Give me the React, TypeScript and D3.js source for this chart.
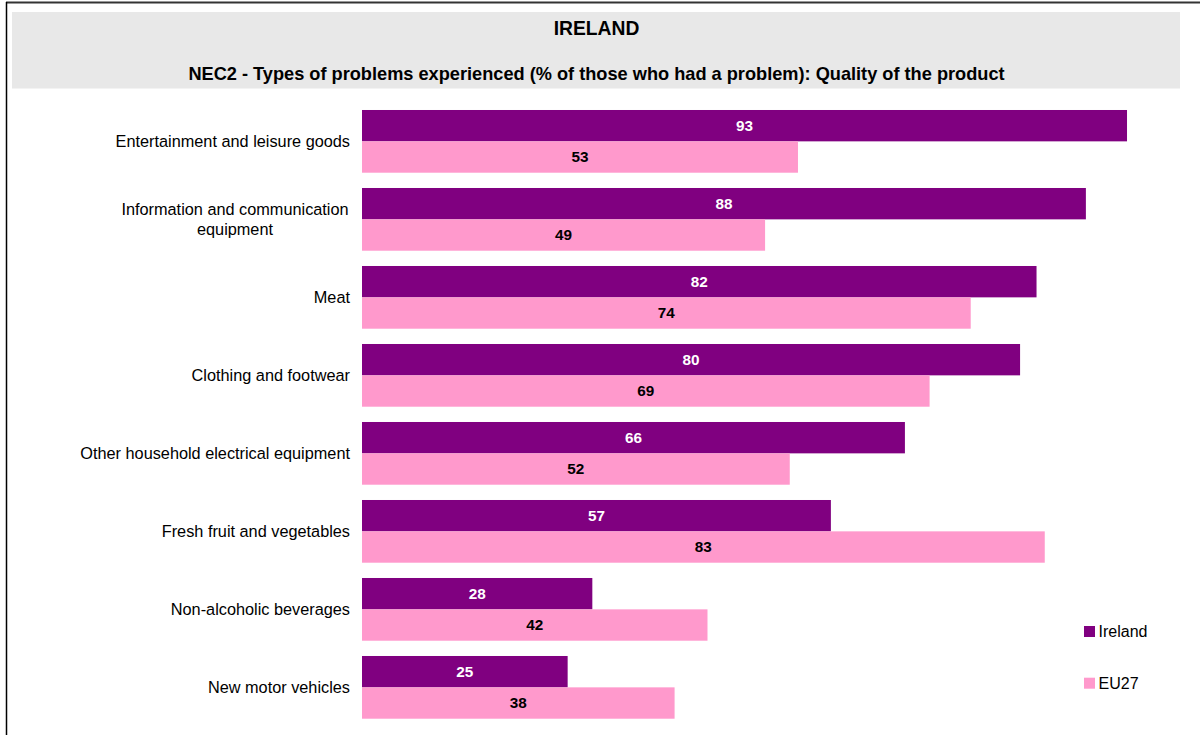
import React from "react";
import * as d3 from "d3";

const categories: string[][] = [
  ["Entertainment and leisure goods"],
  ["Information and communication", "equipment"],
  ["Meat"],
  ["Clothing and footwear"],
  ["Other household electrical equipment"],
  ["Fresh fruit and vegetables"],
  ["Non-alcoholic beverages"],
  ["New motor vehicles"],
];
const ireland = [93, 88, 82, 80, 66, 57, 28, 25];
const eu27 = [53, 49, 74, 69, 52, 83, 42, 38];
const seriesNames = ["Ireland", "EU27"];
const colors = ["#800080", "#FF99CC"];
const labelColors = ["#FFFFFF", "#000000"];

const FONT = "'Liberation Sans', Arial, sans-serif";

export default function App() {
  const W = 1200, H = 735;
  const x = d3.scaleLinear().domain([0, 100]).range([362, 362 + 822.6]);
  const y = d3
    .scaleBand<number>()
    .domain(d3.range(categories.length))
    .range([102.35, 726.35])
    .paddingInner(0.196)
    .paddingOuter(0.098);
  const sub = d3.scaleBand<number>().domain([0, 1]).range([0, y.bandwidth()]);
  const series = [ireland, eu27];

  return (
    <svg
      width={W}
      height={H}
      style={{ position: "absolute", left: 0, top: 0, fontFamily: FONT }}
    >
      <rect x={0} y={0} width={W} height={H} fill="#fff" />
      <line x1={6} y1={2.5} x2={W} y2={2.5} stroke="#333" strokeWidth={2} />
      <line x1={6.5} y1={2} x2={6.5} y2={H} stroke="#000" strokeWidth={1.5} />
      <rect x={12} y={12} width={1168} height={76.5} fill="#E8E8E8" />
      <text x={596.5} y={35} textAnchor="middle" fontWeight="bold" fontSize={19.3} fill="#000">
        IRELAND
      </text>
      <text x={596.5} y={79.5} textAnchor="middle" fontWeight="bold" fontSize={18.2} fill="#000">
        NEC2 - Types of problems experienced (% of those who had a problem): Quality of the product
      </text>

      {categories.map((lines, i) => {
        const cy = (y(i) as number) + y.bandwidth() / 2;
        const lh = 20;
        const start = cy + 5.5 - ((lines.length - 1) * lh) / 2;
        return (
          <text key={"c" + i} fontSize={16.3} fill="#000">
            {lines.map((l, j) => (
              <tspan
                key={j}
                x={lines.length > 1 ? 235 : 350}
                y={start + j * lh}
                textAnchor={lines.length > 1 ? "middle" : "end"}
              >
                {l}
              </tspan>
            ))}
          </text>
        );
      })}

      {series.map((vals, s) =>
        vals.map((v, i) => {
          const by = (y(i) as number) + (sub(s) as number);
          const bh = sub.bandwidth();
          return (
            <g key={"b" + s + "-" + i}>
              <rect x={x(0)} y={by} width={x(v) - x(0)} height={bh} fill={colors[s]} />
              <text
                x={(x(0) + x(v)) / 2}
                y={by + bh / 2 + 5.2}
                textAnchor="middle"
                fontWeight="bold"
                fontSize={15.3}
                fill={labelColors[s]}
              >
                {v}
              </text>
            </g>
          );
        })
      )}

      {seriesNames.map((n, s) => (
        <g key={"l" + s} transform={`translate(1084, ${626 + s * 51.7})`}>
          <rect x={0} y={0} width={11} height={11} fill={colors[s]} />
          <text x={14.5} y={11} fontSize={16} fill="#000">
            {n}
          </text>
        </g>
      ))}
    </svg>
  );
}
